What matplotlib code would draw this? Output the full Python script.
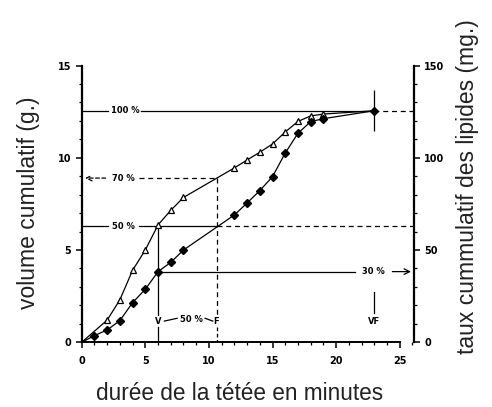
import numpy as np
import matplotlib
matplotlib.use('Agg')
import matplotlib.pyplot as plt
from matplotlib.ticker import MultipleLocator

# volume cumulatif (g.) - triangles
t_vol = [0, 2, 3, 4, 5, 6, 7, 8, 12, 13, 14, 15, 16, 17, 18, 19, 23]
vol = [0, 1.2, 2.3, 3.9, 5.0, 6.36, 7.15, 7.85, 9.45, 9.88, 10.3, 10.75, 11.4, 11.97, 12.27, 12.37, 12.55]

# taux cumulatif des lipides (mg.) - losanges
t_lip = [0, 1, 2, 3, 4, 5, 6, 7, 8, 12, 13, 14, 15, 16, 17, 18, 19, 23]
lip = [0, 3.6, 6.7, 11.7, 21.5, 28.7, 38.3, 43.3, 50, 69, 75.5, 82.2, 89.8, 102.6, 113.3, 119.6, 121.2, 125.5]

# repères
y100 = 12.55
y70 = 8.9
y50 = 6.3
lip30 = 38.3
t_V = 6
t_F = 10.6
t_VF = 23
err_end = 1.1

fig = plt.figure(figsize=(4.92, 4.07), dpi=100)
ax = fig.add_axes([0.166, 0.159, 0.675, 0.680])
ax2 = ax.twinx()

lw = 0.9
ann = dict(fontsize=6, fontweight='bold', ha='center', va='center')

# courbes
ax.plot(t_vol, vol, color='black', lw=lw, marker='^', ms=5, mfc='white', mec='black',
        mew=0.9, markevery=list(range(1, len(t_vol) - 1)), clip_on=False, zorder=3)
ax2.plot(t_lip, lip, color='black', lw=lw, marker='D', ms=4.5, mfc='black', mec='black',
         markevery=list(range(1, len(t_lip))), clip_on=False, zorder=4)
ax2.errorbar([t_VF], [lip[-1]], yerr=err_end * 10, fmt='none', ecolor='black', elinewidth=lw,
             capsize=0, clip_on=False)

# 100 %
ax.plot([0, 2.1], [y100, y100], color='black', lw=lw)
ax.text(3.4, y100, '100 %', **ann)
ax.plot([4.7, t_VF], [y100, y100], color='black', lw=lw)
ax.plot([t_VF, 26.1], [y100, y100], color='black', lw=lw, ls=(0, (4, 3)), clip_on=False)

# 70 %
ax.annotate('', xy=(0.05, y70), xytext=(2.1, y70),
            arrowprops=dict(arrowstyle='->', lw=lw, ls=(0, (3, 2)), color='black'))
ax.text(3.3, y70, '70 %', **ann)
ax.plot([4.5, t_F], [y70, y70], color='black', lw=lw, ls=(0, (4, 3)))
ax.plot([t_F, t_F], [y70, 1.5], color='black', lw=lw, ls=(0, (4, 3)))
ax.plot([t_F, t_F], [0.85, 0], color='black', lw=lw, ls=(0, (3, 2)))

# 50 %
ax.plot([0, 2.1], [y50, y50], color='black', lw=lw)
ax.text(3.3, y50, '50 %', **ann)
ax.plot([4.5, t_F], [y50, y50], color='black', lw=lw)
ax.plot([t_F, 26.1], [y50, y50], color='black', lw=lw, ls=(0, (4, 3)), clip_on=False)

# V
ax.plot([t_V, t_V], [vol[5], 1.5], color='black', lw=lw)
ax.plot([t_V, t_V], [0.85, 0], color='black', lw=lw)
ax.text(t_V, 1.15, 'V', **ann)
ax.text(t_F, 1.15, 'F', **ann)
ax.plot([6.5, 7.5], [1.15, 1.3], color='black', lw=lw)
ax.text(8.6, 1.25, '50 %', **ann)
ax.plot([9.7, 10.3], [1.3, 1.15], color='black', lw=lw)

# 30 %
ax2.plot([t_V, 21.5], [lip30, lip30], color='black', lw=lw)
ax2.text(22.9, lip30, '30 %', **ann)
ax2.annotate('', xy=(26.1, lip30), xytext=(24.2, lip30),
             arrowprops=dict(arrowstyle='->', lw=lw, color='black'), annotation_clip=False)

# VF
ax.plot([t_VF, t_VF], [1.6, 2.7], color='black', lw=lw)
ax.text(t_VF, 1.15, 'VF', **ann)

# axes
ax.set_xlim(0, 26.1)
ax.set_ylim(0, 15)
ax2.set_ylim(0, 150)
for s in ['top', 'right']:
    ax.spines[s].set_visible(False)
for s in ['top', 'left', 'bottom']:
    ax2.spines[s].set_visible(False)
ax.spines['bottom'].set_bounds(0, 25)
ax.spines['left'].set_linewidth(1.6)
ax.spines['bottom'].set_linewidth(1.4)
ax2.spines['right'].set_linewidth(1.6)

ax.xaxis.set_major_locator(MultipleLocator(5))
ax.xaxis.set_minor_locator(MultipleLocator(1))
ax.yaxis.set_major_locator(MultipleLocator(5))
ax.yaxis.set_minor_locator(MultipleLocator(1))
ax2.yaxis.set_major_locator(MultipleLocator(50))
ax2.yaxis.set_minor_locator(MultipleLocator(10))
ax.set_xticks(np.arange(0, 26, 5))

for a in (ax, ax2):
    a.tick_params(which='major', direction='out', length=4, width=1.1, labelsize=7)
    a.tick_params(which='minor', direction='out', length=2.5, width=0.9)
    for lab in a.get_yticklabels() + a.get_xticklabels():
        lab.set_fontweight('bold')
ax.tick_params(axis='x', pad=6)

lab_font = dict(family='Liberation Sans', color='#222222')
ax.set_xlabel('durée de la tétée en minutes', fontsize=16.3, **lab_font)
ax.set_ylabel('volume cumulatif (g.)', fontsize=16.5, **lab_font)
ax2.set_ylabel('taux cummulatif des lipides (mg.)', fontsize=16.5, **lab_font)
ax.xaxis.set_label_coords(0.475, -0.145)
ax.yaxis.set_label_coords(-0.126, 0.503)
ax2.yaxis.set_label_coords(1.127, 0.561)

fig.savefig('out.png', dpi=100)
